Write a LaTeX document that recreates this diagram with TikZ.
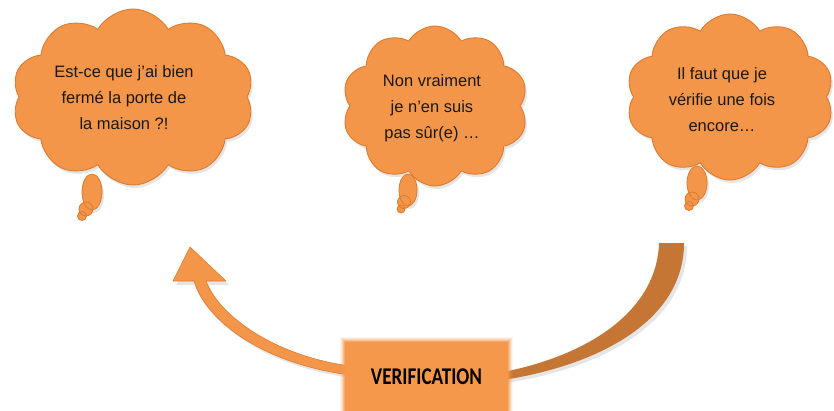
\documentclass[tikz,border=0pt]{standalone}
\usepackage{fontspec}
\usepackage{graphicx}
\setmainfont{Liberation Sans}
\newfontfamily\boxfont{Carlito}
\usetikzlibrary{shapes.symbols}
\definecolor{cloudfill}{RGB}{244,150,74}
\definecolor{cloudline}{RGB}{222,122,46}
\definecolor{arrowdark}{RGB}{198,118,52}
\definecolor{boxfill}{RGB}{245,152,76}
\tikzset{
  thought/.style={cloud, cloud puffs=10, cloud puff arc=120, aspect=1.4,
    fill=cloudfill, draw=cloudline, line width=0.9pt, inner sep=0pt},
  thinktext/.style={align=center, font=\fontsize{16.5}{26}\selectfont, text=black!90},
  tailfill/.style={fill=cloudfill},
  tailline/.style={draw=cloudline, line width=0.8pt},
  shade/.style={fill=black, opacity=0.10},
}
\begin{document}
\begin{tikzpicture}[x=1pt,y=-1pt]
\useasboundingbox (0,0) rectangle (834,410);
\fill[white] (0,0) rectangle (834,410);

% ---------- arrows ----------
% shadows
\fill[shade] (661,246) -- (687,246) .. controls (687,323) and (603,368) .. (506,383)
  -- (506,375) .. controls (593,358) and (660,313) .. (661,246) -- cycle;
\fill[shade] (192,251) -- (229,285) -- (209,285) .. controls (222,320) and (278,360) .. (352,369)
  -- (352,378) .. controls (268,367) and (209,326) .. (197,285) -- (176,285) -- cycle;
% right (dark) arrow
\fill[arrowdark] (659,243) -- (684,243) .. controls (684,320) and (600,365) .. (503,380)
  -- (503,372) .. controls (590,355) and (657,310) .. (659,243) -- cycle;
% left arrow
\path[fill=cloudfill, draw=cloudline, line width=0.6pt, line join=round]
  (190,247) -- (226,281) -- (206,281) .. controls (219,316) and (275,356) .. (350,366)
  -- (350,375) .. controls (265,364) and (206,322) .. (194,281) -- (173,281) -- cycle;

% ---------- verification box ----------
\foreach \d/\o in {5/0.10, 4/0.15, 3/0.22, 2/0.32, 1/0.5}{
  \fill[boxfill, opacity=\o] (345-\d,342-\d) rectangle (508+\d,412);
}
\node[fill=boxfill, inner sep=0pt, minimum width=163pt, minimum height=70pt] (verif) at (426.5,377)
  {\scalebox{0.8}[1]{\boxfont\bfseries\fontsize{24}{24}\selectfont VERIFICATION}};

% ---------- clouds ----------
% cloud 1
\node[thought, shade, draw=none, minimum width=242pt, minimum height=176pt] at (135,100) {};
\node[thought, minimum width=242pt, minimum height=176pt] (c1) at (133,97) {};
\fill[shade] (94,195) ellipse [x radius=10pt, y radius=18pt];
\path[tailfill] (92,192) ellipse [x radius=10pt, y radius=18pt];
\path[tailfill] (86,209) circle [radius=7pt];
\path[tailfill] (82,216) circle [radius=4.5pt];
\path[tailline] (92,192) ellipse [x radius=10pt, y radius=18pt];
\path[tailline] (86,209) circle [radius=7pt];
\path[tailline] (82,216) circle [radius=4.5pt];
\node[thinktext] (t1) at (124,98) {Est-ce que j’ai bien\\fermé la porte de\\la maison ?!};

% cloud 2
\node[thought, shade, draw=none, minimum width=186pt, minimum height=160pt] at (437,109) {};
\node[thought, minimum width=186pt, minimum height=160pt] (c2) at (435,106) {};
\fill[shade] (410,193) ellipse [x radius=9pt, y radius=16pt];
\path[tailfill] (408,190) ellipse [x radius=9pt, y radius=16pt];
\path[tailfill] (404,202) circle [radius=6.5pt];
\path[tailfill] (401,209) circle [radius=4pt];
\path[tailline] (408,190) ellipse [x radius=9pt, y radius=16pt];
\path[tailline] (404,202) circle [radius=6.5pt];
\path[tailline] (401,209) circle [radius=4pt];
\node[thinktext] (t2) at (432,108) {Non vraiment\\je n’en suis\\pas sûr(e) …};

% cloud 3
\node[thought, shade, draw=none, minimum width=208pt, minimum height=166pt] at (732,100) {};
\node[thought, minimum width=208pt, minimum height=166pt] (c3) at (730,97) {};
\fill[shade] (699,186) ellipse [x radius=10pt, y radius=17pt];
\path[tailfill] (697,183) ellipse [x radius=10pt, y radius=17pt];
\path[tailfill] (692,199) circle [radius=7pt];
\path[tailfill] (689,206) circle [radius=4.5pt];
\path[tailline] (697,183) ellipse [x radius=10pt, y radius=17pt];
\path[tailline] (692,199) circle [radius=7pt];
\path[tailline] (689,206) circle [radius=4.5pt];
\node[thinktext] (t3) at (722,100) {Il faut que je\\vérifie une fois\\encore…};
\end{tikzpicture}
\end{document}
